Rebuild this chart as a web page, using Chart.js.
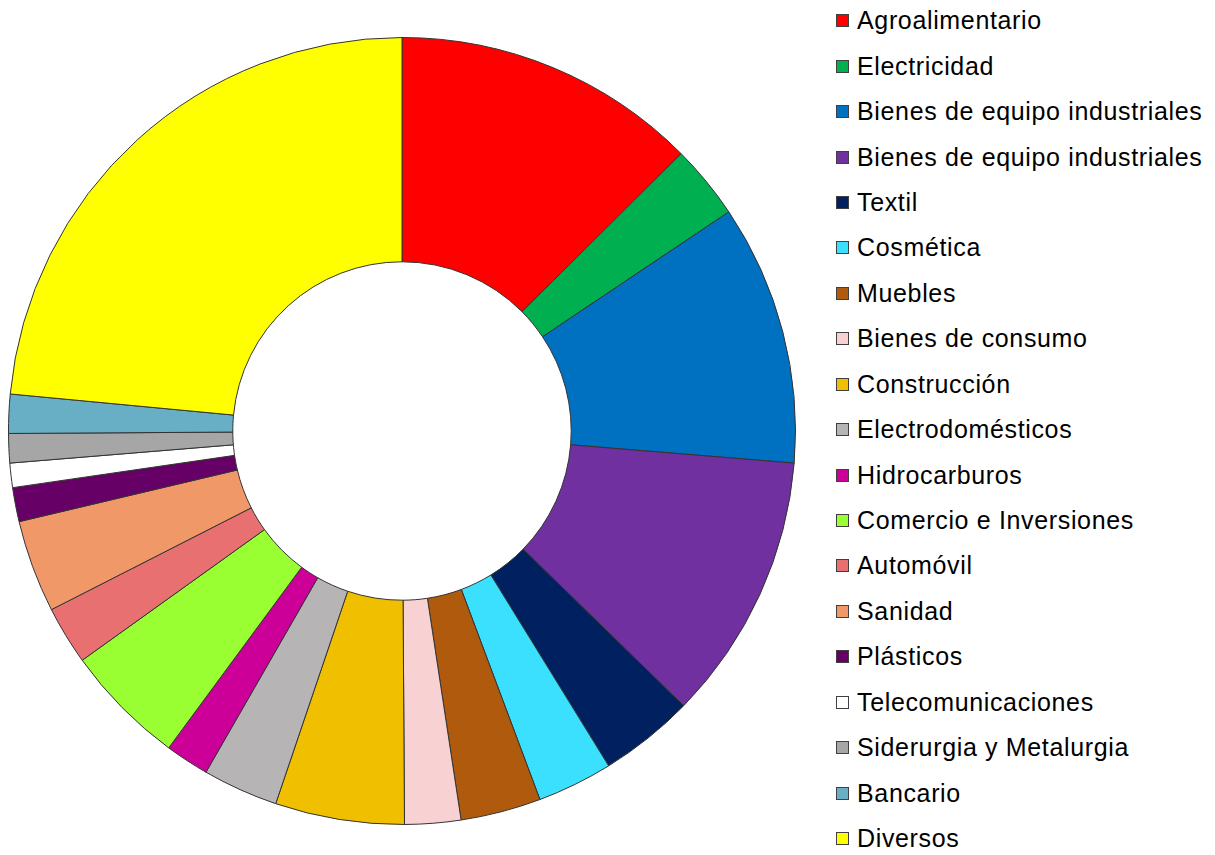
<!DOCTYPE html>
<html>
<head>
<meta charset="utf-8">
<script src="https://cdn.jsdelivr.net/npm/chart.js@4/dist/chart.umd.min.js"></script>
<style>
  body { margin: 0; background: #fff; width: 1215px; height: 855px; overflow: hidden; position: relative; }
  #wrap { position: absolute; left: 8px; top: 37px; width: 788px; height: 788px; }
  #legend { position: absolute; left: 836px; top: -2px; font-family: "Liberation Sans", Arial, sans-serif; font-size: 25px; letter-spacing: 0.65px; color: #000; }
  .item { height: 45.44px; display: flex; align-items: center; white-space: nowrap; }
  .box { width: 11px; height: 11px; border: 1px solid #404040; margin-right: 8px; flex: none; }
</style>
</head>
<body>
<div id="wrap"><canvas id="donut"></canvas></div>
<div id="legend"></div>
<script>
const sectores = [
    'Agroalimentario', 'Electricidad', 'Bienes de equipo industriales', 'Bienes de equipo industriales',
    'Textil', 'Cosmética', 'Muebles', 'Bienes de consumo', 'Construcción', 'Electrodomésticos',
    'Hidrocarburos', 'Comercio e Inversiones', 'Automóvil', 'Sanidad', 'Plásticos',
    'Telecomunicaciones', 'Siderurgia y Metalurgia', 'Bancario', 'Diversos'
];
const porcentajes = [12.55, 3.05, 10.7, 11.0, 3.9, 3.1, 3.3, 2.3, 5.3, 3.1, 1.8, 5.0, 2.4, 3.8, 1.4, 1.0, 1.2, 1.6, 23.5];
const colores = [
    '#FF0000', '#00B050', '#0070C0', '#7030A0', '#002060', '#3BE0FF', '#B05A0E', '#F8D2D2',
    '#F0C000', '#B6B4B5', '#CC0099', '#99FF33', '#E87070', '#F09868', '#660066',
    '#FFFFFF', '#A6A6A6', '#68AEC4', '#FFFF00'
];

const ctx = document.getElementById('donut').getContext('2d');
const chart = new Chart(ctx, {
    type: 'doughnut',
    data: {
        labels: sectores,
        datasets: [{
            data: porcentajes,
            backgroundColor: colores,
            borderColor: '#333333',
            borderWidth: 1
        }]
    },
    options: {
        responsive: true,
        maintainAspectRatio: false,
        animation: false,
        cutout: '43%',
        plugins: {
            legend: { display: false },
            tooltip: { enabled: false }
        }
    }
});

// leyenda a la derecha
const legend = document.getElementById('legend');
sectores.forEach((nombre, i) => {
    const row = document.createElement('div');
    row.className = 'item';
    const box = document.createElement('span');
    box.className = 'box';
    box.style.background = colores[i];
    const txt = document.createElement('span');
    txt.textContent = nombre;
    row.appendChild(box);
    row.appendChild(txt);
    legend.appendChild(row);
});
</script>
</body>
</html>
